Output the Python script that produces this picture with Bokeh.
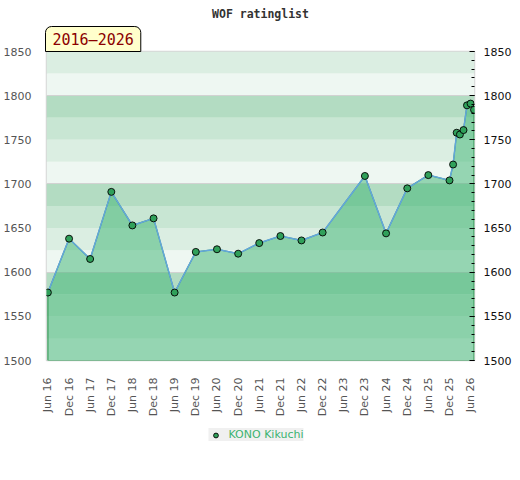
from datetime import datetime
from math import pi

from bokeh.plotting import figure
from bokeh.layouts import column
from bokeh.models import (Range1d, LinearAxis, SingleIntervalTicker, FixedTicker,
                          DatetimeTickFormatter, BoxAnnotation, Title, Grid, Legend)
from bokeh.embed import file_html
from bokeh.resources import INLINE

# ---------------- data ----------------
dates = ["2016-06", "2016-12", "2017-06", "2017-12", "2018-06", "2018-12",
         "2019-06", "2019-12", "2020-06", "2020-12", "2021-06", "2021-12",
         "2022-06", "2022-12", "2023-12", "2024-06", "2024-12", "2025-06",
         "2025-12", "2026-01", "2026-02", "2026-03", "2026-04", "2026-05",
         "2026-06", "2026-07"]
ratings = [1577, 1638, 1615, 1691, 1653, 1661,
           1577, 1623, 1626, 1621, 1633, 1641,
           1636, 1645, 1709, 1644, 1695, 1710,
           1704, 1722, 1758, 1756, 1761, 1789,
           1791, 1784]
tick_labels = ["2016-06", "2016-12", "2017-06", "2017-12", "2018-06", "2018-12",
               "2019-06", "2019-12", "2020-06", "2020-12", "2021-06", "2021-12",
               "2022-06", "2022-12", "2023-06", "2023-12", "2024-06", "2024-12",
               "2025-06", "2025-12", "2026-06"]
player = "KONO Kikuchi"
title_text = "WOF ratinglist"
period_text = "2016\u20132026"
y_min, y_max = 1500, 1850
band_step = 25
band_colors = ["#eef7f2", "#dbeee2", "#c8e6d3", "#b3dcc2"]

# ---------------- helpers ----------------
def to_dt(s):
    return datetime.strptime(s + "-01", "%Y-%m-%d")

def to_ms(d):
    return (d - datetime(1970, 1, 1)).total_seconds() * 1000.0

xs = [to_dt(d) for d in dates]
day = 86400000.0
x_start = to_ms(xs[0]) - 12 * day
x_end = to_ms(xs[-1]) + 4 * day

p = figure(frame_width=428, frame_height=309, x_axis_type="datetime",
           x_range=Range1d(x_start, x_end), y_range=Range1d(y_min, y_max),
           output_backend="svg", toolbar_location=None, title=None,
           min_border_left=0, min_border_right=0, min_border_top=0,
           min_border_bottom=0)
p.background_fill_color = "white"
p.outline_line_color = "#d6d6d6"
p.outline_line_width = 1.5
p.xgrid.visible = False
p.ygrid.visible = False

# background bands
for i, b in enumerate(range(y_min, y_max, band_step)):
    p.add_layout(BoxAnnotation(bottom=b, top=b + band_step, fill_color=band_colors[i % 4],
                               fill_alpha=1.0, line_color=None, level="underlay"))

grid = Grid(dimension=1, ticker=SingleIntervalTicker(interval=100),
            grid_line_color="#d2d2d2", grid_line_width=1, level="underlay")
p.add_layout(grid)

# area
area_x = xs + [xs[-1], xs[0]]
area_y = ratings + [y_min, y_min]
p.patch(area_x, area_y, fill_color="#3cb371", fill_alpha=0.5,
        line_color="#3a9a5a", line_width=1.2)
p.line(xs, ratings, line_color="#63a6dc", line_width=1.5)
pts = p.scatter(xs, ratings, size=7, fill_color="#30a05a", line_color="black",
                line_width=0.9)

# axes
tick_ms = [to_ms(to_dt(t)) for t in tick_labels]
xa = p.xaxis[0]
xa.ticker = FixedTicker(ticks=tick_ms)
xa.formatter = DatetimeTickFormatter(months="%b %y", days="%b %y", years="%b %y",
                                     hours="%b %y", minutes="%b %y")
xa.major_label_orientation = pi / 2
xa.major_tick_line_color = None
xa.minor_tick_line_color = None
xa.axis_line_color = None
xa.major_label_text_color = "#555555"
xa.major_label_text_font = "DejaVu Sans"
xa.major_label_text_font_size = "11px"
xa.major_label_standoff = 11

ya = p.yaxis[0]
ya.ticker = SingleIntervalTicker(interval=50)
ya.major_tick_line_color = None
ya.minor_tick_line_color = None
ya.axis_line_color = None
ya.major_label_text_color = "#555555"
ya.major_label_text_font = "DejaVu Sans"
ya.major_label_text_font_size = "11px"
ya.major_label_standoff = 9

ra = LinearAxis(ticker=SingleIntervalTicker(interval=50, num_minor_ticks=5))
ra.axis_line_color = None
ra.major_tick_in = 5
ra.major_tick_out = 0
ra.minor_tick_in = 3
ra.minor_tick_out = 0
ra.major_tick_line_color = "black"
ra.minor_tick_line_color = "black"
ra.major_label_text_color = "#111111"
ra.major_label_text_font = "DejaVu Sans"
ra.major_label_text_font_size = "11px"
ra.major_label_standoff = 9
p.add_layout(ra, "right")

# period label (closest to frame) then main title
p.add_layout(Title(text=period_text, align="left", standoff=0, offset=-1,
                   text_font="DejaVu Sans Mono", text_font_size="15px",
                   text_font_style="normal", text_color="#8b0000",
                   background_fill_color="#ffffcc", background_fill_alpha=1.0,
                   border_line_color="black", border_line_width=1,
                   padding=dict(left=7, right=7, top=4, bottom=3),
                   border_radius=(6, 6, 0, 0)), "above")
p.add_layout(Title(text=title_text, align="center", standoff=8,
                   text_font="DejaVu Sans Mono", text_font_style="bold",
                   text_font_size="11.5px", text_color="#333333"), "above")

# legend in a small strip below the chart
lg = figure(width=506, height=50, output_backend="svg", toolbar_location=None,
            x_axis_location=None, y_axis_location=None, min_border=0,
            outline_line_color=None, x_range=Range1d(0, 1), y_range=Range1d(0, 1))
lg.xgrid.visible = False
lg.ygrid.visible = False
key = lg.scatter([-5], [-5], size=7, fill_color="#30a05a", line_color="black",
                 line_width=0.9)
legend = Legend(items=[(player, [key])], orientation="horizontal", location="top_center",
                background_fill_color="#f0f0f0", background_fill_alpha=1.0,
                border_line_color=None, label_text_color="#3cb371",
                label_text_font="DejaVu Sans", label_text_font_size="11px",
                glyph_width=14, glyph_height=12, label_height=12,
                label_standoff=6, padding=6, margin=9, spacing=0)
lg.add_layout(legend, "center")

layout = column(p, lg, spacing=0)
open("out.html", "w").write(file_html(layout, INLINE))
